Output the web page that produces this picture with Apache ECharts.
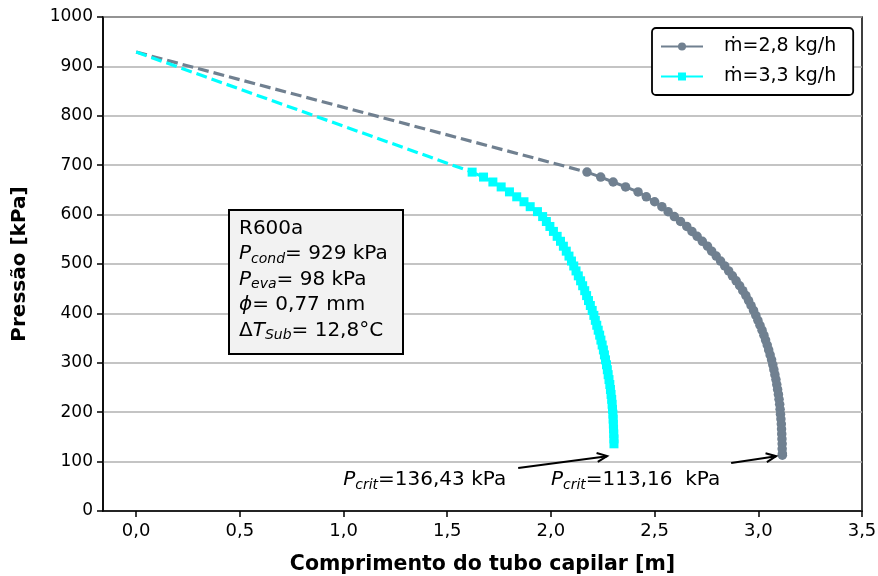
<!DOCTYPE html>
<html>
<head>
<meta charset="utf-8">
<script src="https://cdn.jsdelivr.net/npm/echarts@6/dist/echarts.min.js"></script>
<style>html,body{margin:0;padding:0;background:#fff}#c{width:878px;height:576px}</style>
</head>
<body>
<div id="c"></div>
<script>
// ---- data ----
const xTicks = [0, 0.5, 1.0, 1.5, 2.0, 2.5, 3.0, 3.5];
const yTicks = [0, 100, 200, 300, 400, 500, 600, 700, 800, 900, 1000];

const name28 = 'ṁ=2,8 kg/h';
const name33 = 'ṁ=3,3 kg/h';

// ṁ = 2,8 kg/h : pressure [kPa] and length [m]
const p28 = [686,676,666,656,646,636,626,616,606,596,586,576,566,556,546,536,526,516,506,496,486,476,466,456,446,436,426,416,406,396,386,376,366,356,346,336,326,316,306,296,286,276,266,256,246,236,226,216,206,196,186,176,166,156,146,136,126,116,113];
const L28 = [2.174,2.24,2.30,2.36,2.42,2.46,2.50,2.535,2.565,2.595,2.625,2.655,2.68,2.705,2.73,2.755,2.775,2.797,2.818,2.838,2.857,2.875,2.893,2.91,2.925,2.94,2.953,2.965,2.977,2.988,2.998,3.008,3.018,3.027,3.035,3.043,3.05,3.057,3.064,3.07,3.075,3.08,3.085,3.089,3.093,3.097,3.10,3.103,3.105,3.107,3.109,3.111,3.112,3.113,3.114,3.115,3.115,3.116,3.116];

// ṁ = 3,3 kg/h
const p33 = [686,676,666,656,646,636,626,616,606,596,586,576,566,556,546,536,526,516,506,496,486,476,466,456,446,436,426,416,406,396,386,376,366,356,346,336,326,316,306,296,286,276,266,256,246,236,226,216,206,196,186,176,166,156,146,136];
const L33 = [1.62,1.675,1.72,1.76,1.80,1.835,1.87,1.90,1.935,1.96,1.978,1.995,2.012,2.03,2.046,2.06,2.074,2.087,2.099,2.11,2.121,2.132,2.143,2.153,2.163,2.172,2.181,2.19,2.199,2.207,2.214,2.221,2.228,2.235,2.241,2.247,2.253,2.258,2.263,2.268,2.272,2.276,2.28,2.284,2.287,2.29,2.293,2.295,2.297,2.299,2.30,2.301,2.302,2.303,2.304,2.304];

// dashed extrapolation (inlet to first computed point)
const dash28 = [[0, 929], [2.174, 686]];
const dash33 = [[0, 929], [1.62, 686]];

// annotations
const critLabels = ['136,43 kPa', '113,16  kPa'];
const critText = [[0.998, 63], [2.0, 63]];
const critArrows = [[[1.842, 87], [2.271, 111]], [[2.869, 97], [3.086, 111]]];

const FONT = 'DejaVu Sans';
const GRAY = '#708090';
const CYAN = '#00ffff';

const s28 = L28.map((x, i) => [x, p28[i]]);
const s33 = L33.map((x, i) => [x, p33[i]]);

const chart = echarts.init(document.getElementById('c'), null, {renderer: 'canvas'});

const option = {
  animation: false,
  backgroundColor: '#ffffff',
  grid: {left: 103, right: 16, top: 17, bottom: 65, outerBoundsMode: 'none', containLabel: false,
    show: true, borderColor: '#000', borderWidth: 1.5, backgroundColor: 'transparent'},
  xAxis: {
    type: 'value', min: -0.16, max: 3.5,
    name: 'Comprimento do tubo capilar [m]', nameLocation: 'middle', nameGap: 43,
    nameTextStyle: {fontFamily: FONT, fontWeight: 'bold', fontSize: 20.5, color: '#000'},
    axisLine: {onZero: false, lineStyle: {color: '#000', width: 1.5}},
    axisTick: {show: true, length: 6, inside: false, customValues: xTicks, lineStyle: {color: '#000', width: 1.5}},
    axisLabel: {customValues: xTicks, margin: 11, fontFamily: FONT, fontSize: 18, color: '#000',
      formatter: v => v.toFixed(1).replace('.', ',')},
    splitLine: {show: false}
  },
  yAxis: {
    type: 'value', min: 0, max: 1000, interval: 100,
    name: 'Pressão [kPa]', nameLocation: 'middle', nameGap: 73, nameRotate: 90,
    nameTextStyle: {fontFamily: FONT, fontWeight: 'bold', fontSize: 20, color: '#000'},
    axisLine: {show: true, onZero: false, lineStyle: {color: '#000', width: 1.5}},
    axisTick: {show: true, length: 6, lineStyle: {color: '#000', width: 1.5}},
    axisLabel: {margin: 10, fontFamily: FONT, fontSize: 17, color: '#000',
      customValues: yTicks, formatter: v => String(v)},
    splitLine: {show: true, lineStyle: {color: '#b0b0b0', width: 1.5}}
  },
  legend: {
    data: [name28, name33],
    orient: 'vertical', left: 652, top: 28,
    backgroundColor: '#fff', borderColor: '#000', borderWidth: 1.8, borderRadius: 4,
    padding: [9, 17, 9, 8], itemGap: 11, itemWidth: 42, itemHeight: 10,
    lineStyle: {width: 2},
    textStyle: {fontFamily: FONT, fontSize: 19, color: '#000', padding: [0, 0, 0, 16]}
  },
  series: [
    {type: 'line', data: dash28, showSymbol: false, symbol: 'none', silent: true,
      lineStyle: {color: GRAY, width: 3.2, type: [11, 5]}, z: 2},
    {type: 'line', name: name28, data: s28, symbol: 'circle', symbolSize: 9.5, showSymbol: true,
      itemStyle: {color: GRAY}, lineStyle: {color: GRAY, width: 3}, z: 3},
    {type: 'line', data: dash33, showSymbol: false, symbol: 'none', silent: true,
      lineStyle: {color: CYAN, width: 3.2, type: [11, 5]}, z: 4},
    {type: 'line', name: name33, data: s33, symbol: 'rect', symbolSize: 9, showSymbol: true,
      itemStyle: {color: CYAN}, lineStyle: {color: CYAN, width: 3}, z: 5}
  ]
};
chart.setOption(option);

function px(pt) { return chart.convertToPixel({xAxisIndex: 0, yAxisIndex: 0}, pt); }

const graphics = [];
// info box
graphics.push({type: 'rect', shape: {x: 229, y: 210, width: 174, height: 144}, z: 10,
  style: {fill: '#f2f2f2', stroke: '#000', lineWidth: 2}});
const rich = {
  n: {fontFamily: FONT, fontSize: 20, color: '#000', lineHeight: 25.5},
  i: {fontFamily: FONT, fontSize: 20, fontStyle: 'italic', color: '#000', lineHeight: 25.5},
  s: {fontFamily: FONT, fontSize: 14, fontStyle: 'italic', color: '#000', lineHeight: 25.5, padding: [10, 0, 0, 0]}
};
graphics.push({type: 'text', x: 239, y: 216, z: 11,
  style: {text: '{n|R600a}\n{i|P}{s|cond}{n|= 929 kPa}\n{i|P}{s|eva}{n|= 98 kPa}\n{i|ϕ}{n|= 0,77 mm}\n{n|Δ}{i|T}{s|Sub}{n|= 12,8°C}',
    rich: rich, verticalAlign: 'top', align: 'left'}});
// critical pressure annotations
critLabels.forEach((lab, k) => {
  const p = px(critText[k]);
  graphics.push({type: 'text', x: p[0], y: p[1], z: 11,
    style: {text: '{i|P}{s|crit}{n|=' + lab + '}', rich: rich, verticalAlign: 'middle', align: 'left'}});
  const a = px(critArrows[k][0]), b = px(critArrows[k][1]);
  graphics.push({type: 'line', shape: {x1: a[0], y1: a[1], x2: b[0], y2: b[1]}, z: 11,
    style: {stroke: '#000', lineWidth: 2}});
  const ang = Math.atan2(b[1] - a[1], b[0] - a[0]);
  const L = 11, w = 0.42;
  graphics.push({type: 'polyline', z: 11,
    shape: {points: [[b[0] - L * Math.cos(ang - w), b[1] - L * Math.sin(ang - w)], b,
      [b[0] - L * Math.cos(ang + w), b[1] - L * Math.sin(ang + w)]]},
    style: {stroke: '#000', lineWidth: 2, fill: 'none'}});
});
chart.setOption({graphic: graphics});
</script>
</body>
</html>
